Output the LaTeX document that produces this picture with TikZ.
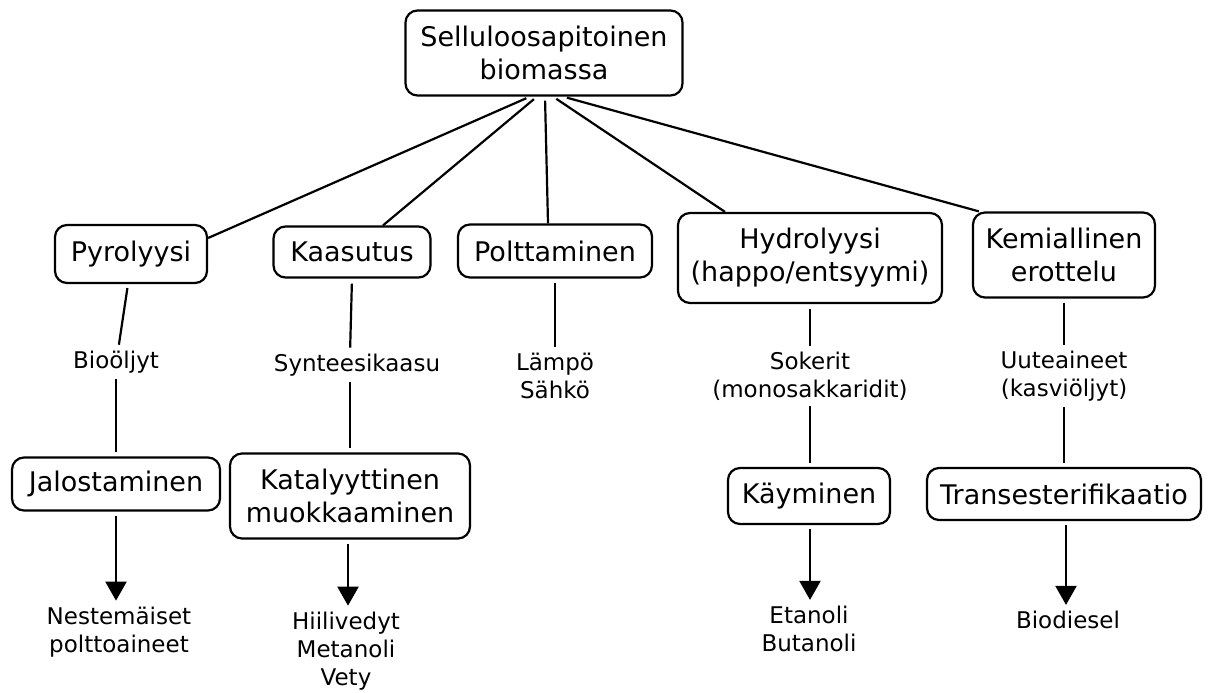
\documentclass[tikz,border=0pt]{standalone}
\usepackage{fontspec}
\setmainfont{DejaVu Sans}
\usetikzlibrary{arrows.meta}
\begin{document}
\begin{tikzpicture}[x=1pt,y=-1pt,
  box/.style={draw, line width=2.2pt, rounded corners=12pt, align=center, inner sep=0pt,
    font=\fontsize{27}{33}\selectfont},
  lbl/.style={align=center, inner sep=0pt, font=\fontsize{23}{28}\selectfont},
  conn/.style={line width=2.2pt},
  arr/.style={conn, -{Triangle[width=21pt,length=19pt]}}]
\useasboundingbox (0,0) rectangle (1219,693);
% boxes
\node[box, minimum width=277pt, minimum height=85pt] (top) at (544,53) {Selluloosapitoinen\\biomassa};
\node[box, minimum width=152pt, minimum height=58pt] (pyr) at (131,254) {Pyrolyysi};
\node[box, minimum width=157pt, minimum height=51pt] (kaa) at (352,252) {Kaasutus};
\node[box, minimum width=194pt, minimum height=53pt] (pol) at (555,251) {Polttaminen};
\node[box, minimum width=264pt, minimum height=90pt] (hyd) at (810,258) {Hydrolyysi\\(happo/entsyymi)};
\node[box, minimum width=182pt, minimum height=85pt] (kem) at (1064,255) {Kemiallinen\\erottelu};
\node[box, minimum width=208pt, minimum height=53pt] (jal) at (116,484) {Jalostaminen};
\node[box, minimum width=240pt, minimum height=85pt] (kat) at (350,496) {Katalyyttinen\\muokkaaminen};
\node[box, minimum width=162pt, minimum height=56pt] (kay) at (809,496) {Käyminen};
\node[box, minimum width=274pt, minimum height=52pt] (tra) at (1064,494) {Transesterifikaatio};
% labels
\node[lbl] (bio) at (116,362) {Bioöljyt};
\node[lbl] (syn) at (357,365) {Synteesikaasu};
\node[lbl] (lam) at (555,376) {Lämpö\\Sähkö};
\node[lbl] (sok) at (810,376) {Sokerit\\(monosakkaridit)};
\node[lbl] (uut) at (1064,376) {Uuteaineet\\(kasviöljyt)};
\node[lbl] (nes) at (119,632) {Nestemäiset\\polttoaineet};
\node[lbl] (hii) at (346,651) {Hiilivedyt\\Metanoli\\Vety};
\node[lbl] (eta) at (809,629) {Etanoli\\Butanoli};
\node[lbl] (bdi) at (1068,620) {Biodiesel};
% top connectors
\draw[conn, shorten <=4pt] ([xshift=-14pt]top.south) -- ([yshift=16pt]pyr.east);
\draw[conn, shorten <=4pt] ([xshift=-7pt]top.south) -- ([xshift=31pt]kaa.north);
\draw[conn, shorten <=4pt] ([xshift=1pt]top.south) -- ([xshift=-7pt]pol.north);
\draw[conn, shorten <=4pt] ([xshift=9pt]top.south) -- ([xshift=-85pt]hyd.north);
\draw[conn, shorten <=4pt] ([xshift=19pt]top.south) -- ([xshift=7pt]kem.north west);
% column connectors
\draw[conn, shorten <=4pt, shorten >=6pt] ([xshift=-3pt]pyr.south) -- ([xshift=2pt]bio.north);
\draw[conn, shorten <=6pt, shorten >=4pt] (bio.south) -- (jal.north);
\draw[arr, shorten <=4pt, shorten >=6pt] (jal.south) -- (jal.south |- nes.north);
\draw[conn, shorten <=5pt, shorten >=6pt] (kaa.south) -- ([xshift=-7pt]syn.north);
\draw[conn, shorten <=6pt, shorten >=4pt] ([xshift=-7pt]syn.south) -- (kat.north);
\draw[arr, shorten <=4pt, shorten >=6pt] ([xshift=-2pt]kat.south) -- ([xshift=-2pt]kat.south |- hii.north);
\draw[conn, shorten <=4pt, shorten >=6pt] (pol.south) -- (lam.north);
\draw[conn, shorten <=5pt, shorten >=6pt] (hyd.south) -- (sok.north);
\draw[conn, shorten <=6pt, shorten >=4pt] (sok.south) -- (sok.south |- kay.north);
\draw[arr, shorten <=4pt, shorten >=6pt] ([xshift=1pt]kay.south) -- ([xshift=1pt]kay.south |- eta.north);
\draw[conn, shorten <=4pt, shorten >=6pt] (kem.south) -- (uut.north);
\draw[conn, shorten <=6pt, shorten >=4pt] (uut.south) -- (tra.north);
\draw[arr, shorten <=4pt, shorten >=6pt] ([xshift=2pt]tra.south) -- ([xshift=2pt]tra.south |- bdi.north);
\end{tikzpicture}
\end{document}
